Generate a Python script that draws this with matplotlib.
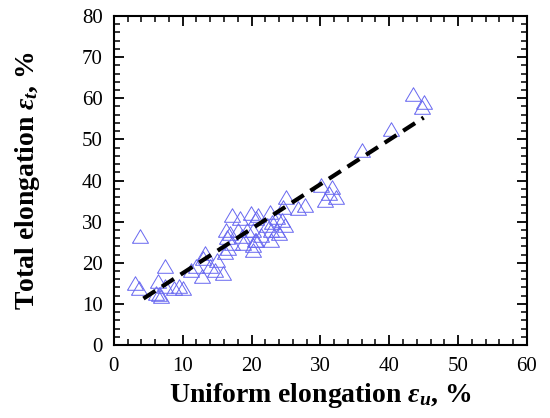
import matplotlib
matplotlib.use("Agg")
import matplotlib.pyplot as plt
from matplotlib.ticker import MultipleLocator
import numpy as np

uniform_elong = [3.1, 3.7, 3.8, 6.1, 6.4, 6.9, 6.5, 7.4, 7.4, 8.7, 9.4, 10.0, 11.2, 12.0, 12.8,
                 13.0, 13.2, 14.0, 14.7, 15.0, 15.8, 16.1, 16.3, 16.4, 16.6, 16.9, 17.1, 17.1,
                 18.1, 18.3, 18.6, 18.8, 19.4, 19.9, 20.2, 20.2, 20.2, 20.5, 20.7, 20.7, 20.9,
                 21.4, 22.2, 22.7, 22.9, 22.9, 23.0, 23.7, 23.7, 24.0, 24.4, 24.8, 24.5, 25.0,
                 26.8, 27.8, 30.1, 30.7, 31.2, 31.7, 32.2, 36.0, 40.3, 43.4, 45.0, 44.7]
total_elong = [15.1, 13.9, 26.4, 12.7, 15.5, 11.9, 12.3, 19.1, 14.3, 13.9, 14.3, 13.9, 18.3, 19.1, 16.7,
               21.1, 22.3, 19.1, 18.2, 20.7, 17.5, 22.7, 28.0, 26.3, 23.5, 27.2, 31.6, 24.8,
               28.0, 30.8, 26.4, 24.7, 28.0, 32.0, 28.0, 24.4, 23.1, 25.5, 25.6, 30.8, 31.6,
               26.8, 29.2, 32.4, 28.0, 25.5, 30.0, 28.0, 31.2, 27.2, 30.4, 29.2, 33.6, 36.0,
               33.2, 34.0, 38.9, 35.2, 37.0, 38.5, 36.0, 47.3, 52.6, 61.0, 59.0, 57.8]
fit_x = [4.3, 45.0]
fit_y = [11.3, 55.3]

plt.rcParams['font.family'] = ['Liberation Serif', 'DejaVu Serif']
plt.rcParams['mathtext.fontset'] = 'custom'
plt.rcParams['mathtext.rm'] = 'Liberation Serif:bold'
plt.rcParams['mathtext.it'] = 'Liberation Serif:italic:bold'
plt.rcParams['mathtext.bf'] = 'Liberation Serif:bold'

fig = plt.figure(figsize=(5.5, 4.18), dpi=100)
ax = fig.add_axes([0.207, 0.1746, 0.751, 0.7871])

tri = [(-1, -0.85), (1, -0.85), (0, 0.85), (-1, -0.85)]
ax.plot(uniform_elong, total_elong, linestyle='none', marker=tri, markersize=11.5,
        markerfacecolor='none', markeredgecolor='#6868f0', markeredgewidth=0.7)
line, = ax.plot(fit_x, fit_y, color='black', lw=3)
line.set_dashes([3.4, 1.9])

ax.set_xlim(0, 60)
ax.set_ylim(0, 80)
ax.xaxis.set_major_locator(MultipleLocator(10))
ax.xaxis.set_minor_locator(MultipleLocator(2))
ax.yaxis.set_major_locator(MultipleLocator(10))
ax.yaxis.set_minor_locator(MultipleLocator(2))
ax.tick_params(which='both', direction='in', top=True, right=True, labelsize=15)
ax.tick_params(which='major', length=7, width=1.3)
ax.tick_params(which='minor', length=4, width=1.1)
ax.tick_params(axis='x', which='both', pad=8.5)
ax.tick_params(axis='y', which='both', pad=8)
for s in ax.spines.values():
    s.set_linewidth(1.5)

ax.set_xlabel(r'Uniform elongation $\varepsilon_u$, %', fontsize=20, fontweight='bold', labelpad=4)
ax.set_ylabel(r'Total elongation $\varepsilon_t$, %', fontsize=20, fontweight='bold', labelpad=29)

fig.savefig('out.png', dpi=100)
